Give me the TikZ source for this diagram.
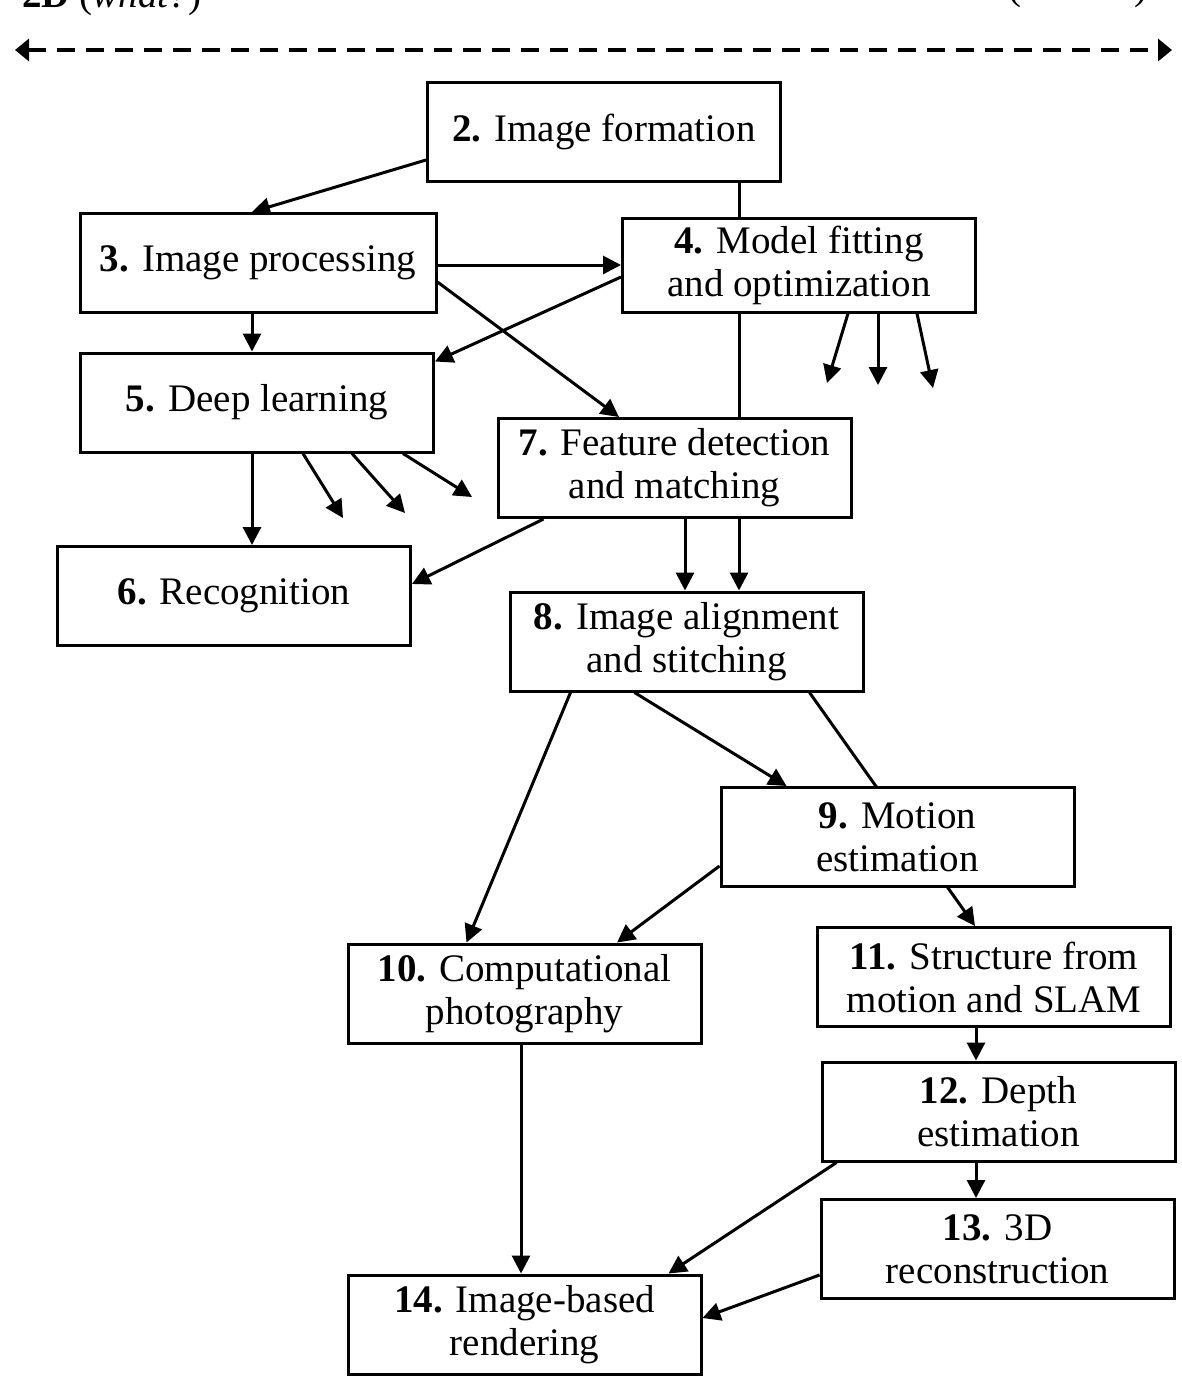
\documentclass[tikz,border=0pt]{standalone}
\usepackage{fontspec}
\setmainfont{Liberation Serif}
\usetikzlibrary{arrows.meta,backgrounds}

\begin{document}
\begin{tikzpicture}[x=0.5pt,y=-0.5pt,
	box/.style={draw,fill=white,line width=1.5pt,inner sep=0,minimum width=176.5pt,minimum height=49.5pt,align=center,font=\fontsize{19.5}{21.5}\selectfont},
	link/.style={line width=1.5pt,-{Triangle[length=9pt,width=9pt]}},
	side/.style={inner sep=0,font=\fontsize{19.5}{21.5}\selectfont}]
	\useasboundingbox (0,0) rectangle (1182,1383);
	\node[side,anchor=base west] (what) at (22,7) {\textbf{2D} (\textit{what?})};
	\node[side,anchor=base east] (where) at (1148,-1) {\textbf{3D} (\textit{where?})};
	\coordinate (west) at (15,50);
	\coordinate (east) at (1172,50);
	\draw[line width=2pt,dash pattern=on 9pt off 5.5pt,{Triangle[length=7pt,width=11pt]}-{Triangle[length=7pt,width=11pt]}] (west) -- (east);
	\node[box] (2) at (604,132) {\textbf{2.} Image formation};
	\node[box,minimum width=178pt] (3) at (258,263) {\textbf{3.} Image processing};
	\node[box,minimum height=47pt] (4) at (799,265) {\textbf{4.} Model fitting\\and optimization};
	\node[box] (5) at (257,402.5) {\textbf{5.} Deep learning};
	\node[box] (6) at (234,596) {\textbf{6.} Recognition};
	\node[box] (7) at (674.5,468) {\textbf{7.} Feature detection\\and matching};
	\node[box] (8) at (686.5,641.5) {\textbf{8.} Image alignment\\and stitching};
	\node[box] (9) at (897.5,837) {\textbf{9.} Motion\\estimation};
	\node[box] (10) at (524.5,993.5) {\textbf{10.} Computational\\photography};
	\node[box] (11) at (994,977) {\textbf{11.} Structure from\\motion and SLAM};
	\node[box] (12) at (998.5,1111.5) {\textbf{12.} Depth\\estimation};
	\node[box] (13) at (997.5,1249) {\textbf{13.} 3D\\reconstruction};
	\node[box] (14) at (524.5,1324.5) {\textbf{14.} Image-based\\rendering};
	% loose ends
	\coordinate (4a) at (827,383);
	\coordinate (4b) at (878,385);
	\coordinate (4c) at (933,388);
	\coordinate (5a) at (343,518);
	\coordinate (5b) at (405,513);
	\coordinate (5c) at (472,497);
	\begin{scope}[on background layer]
		\draw[link] ([yshift=-14pt]2.west) -- ([xshift=-3pt]3.north);
		\draw[link] ([xshift=67.5pt]2.south) -- ([xshift=26.25pt]8.north);
		\draw[link] ([yshift=-1pt]3.east) -- (4.west);
		\draw[link] ([xshift=-3pt]3.south) -- ([xshift=-2.5pt]5.north);
		\draw[link] ([yshift=-9.5pt]3.east) -- ([xshift=-27.75pt]7.north);
		\draw[link] ([yshift=-6pt]4.west) -- ([yshift=-5pt]5.north east);
		\draw[link] ([xshift=24.5pt]4.south) -- (4a);
		\draw[link] ([xshift=39.5pt]4.south) -- (4b);
		\draw[link] ([xshift=59pt]4.south) -- (4c);
		\draw[link] ([xshift=-2.5pt]5.south) -- ([xshift=9pt]6.north);
		\draw[link] ([xshift=23pt]5.south) -- (5a);
		\draw[link] ([xshift=47.5pt]5.south) -- (5b);
		\draw[link] ([xshift=73pt]5.south) -- (5c);
		\draw[link] ([xshift=23.5pt]7.south west) -- ([yshift=6pt]6.east);
		\draw[link] ([xshift=5.25pt]7.south) -- ([xshift=-0.75pt]8.north);
		\draw[link] ([xshift=31pt]8.south west) -- ([xshift=60pt]10.north west);
		\draw[link] ([xshift=63pt]8.south west) -- ([xshift=33.5pt]9.north west);
		\draw[link] ([xshift=-27.5pt]8.south east) -- ([xshift=-9.5pt]11.north);
		\draw[link] ([yshift=-14.5pt]9.west) -- ([xshift=46.25pt]10.north);
		\draw[link] ([xshift=-1.75pt]10.south) -- ([xshift=-1.75pt]14.north);
		\draw[link] ([xshift=-9pt]11.south) -- ([xshift=-11.25pt]12.north);
		\draw[link] ([xshift=-11.25pt]12.south) -- ([xshift=-10.75pt]13.north);
		\draw[link] ([xshift=8pt]12.south west) -- ([xshift=-17pt]14.north east);
		\draw[link] ([yshift=-13pt]13.west) -- ([yshift=3.25pt]14.east);
	\end{scope}
\end{tikzpicture}
\end{document}
